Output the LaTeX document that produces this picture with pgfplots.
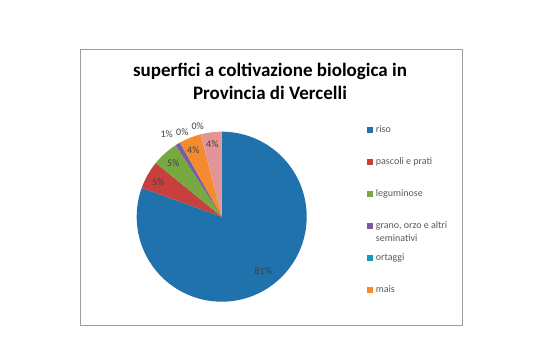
\documentclass[border=0pt]{standalone}
\usepackage{pgfplots}
\pgfplotsset{compat=1.18}
\usepackage{fontspec}
\setmainfont{Carlito}
\definecolor{criso}{HTML}{1F72AB}
\definecolor{cpasc}{HTML}{C8403E}
\definecolor{clegu}{HTML}{78A840}
\definecolor{cgran}{HTML}{7B5BA6}
\definecolor{corta}{HTML}{1A9BB5}
\definecolor{cmais}{HTML}{F68A2F}
\definecolor{cxx}{HTML}{9BB5D6}
\definecolor{cpink}{HTML}{E39496}
\definecolor{ctext}{HTML}{404040}
\definecolor{clegt}{HTML}{595959}
\begin{document}
\begin{tikzpicture}[x=1pt,y=1pt]
\useasboundingbox (0,0) rectangle (541,363);
% chart border
\draw[color=black!38, line width=1pt] (80.7,313.7) rectangle (462,37);
% title
\node[align=center, font=\fontsize{19}{22.7}\selectfont\bfseries, text=black] at (270,281.6)
  {superfici a coltivazione biologica in\\Provincia di Vercelli};
% pie (percent shares, clockwise from the top)
\begin{axis}[x=85pt, y=85pt, hide axis, anchor=origin, at={(221.7pt,146.3pt)},
  xmin=-1, xmax=1, ymin=-1, ymax=1, clip=false]
\addplot[fill=criso, draw=none, domain=0:80.5, samples=150, variable=\p]
  ({cos(90-3.6*\p)},{sin(90-3.6*\p)}) -- (axis cs:0,0) -- cycle;
\addplot[fill=cpasc, draw=none, domain=80.5:85.9, samples=20, variable=\p]
  ({cos(90-3.6*\p)},{sin(90-3.6*\p)}) -- (axis cs:0,0) -- cycle;
\addplot[fill=clegu, draw=none, domain=85.9:90.9, samples=20, variable=\p]
  ({cos(90-3.6*\p)},{sin(90-3.6*\p)}) -- (axis cs:0,0) -- cycle;
\addplot[fill=cgran, draw=none, domain=90.9:91.8, samples=5, variable=\p]
  ({cos(90-3.6*\p)},{sin(90-3.6*\p)}) -- (axis cs:0,0) -- cycle;
\addplot[fill=corta, draw=none, domain=91.8:91.85, samples=2, variable=\p]
  ({cos(90-3.6*\p)},{sin(90-3.6*\p)}) -- (axis cs:0,0) -- cycle;
\addplot[fill=cmais, draw=none, domain=91.85:96.05, samples=20, variable=\p]
  ({cos(90-3.6*\p)},{sin(90-3.6*\p)}) -- (axis cs:0,0) -- cycle;
\addplot[fill=cxx, draw=none, domain=96.05:96.1, samples=2, variable=\p]
  ({cos(90-3.6*\p)},{sin(90-3.6*\p)}) -- (axis cs:0,0) -- cycle;
\addplot[fill=cpink, draw=none, domain=96.1:100, samples=20, variable=\p]
  ({cos(90-3.6*\p)},{sin(90-3.6*\p)}) -- (axis cs:0,0) -- cycle;
\end{axis}
% data labels
\begin{scope}[every node/.style={font=\fontsize{10}{12}\selectfont, text=ctext, inner sep=0pt}]
\node at (263.3,92.3) {81\%};
\node at (158.3,181.3) {5\%};
\node at (173.3,199.7) {5\%};
\node at (166.7,228.7) {1\%};
\node at (182.3,231.3) {0\%};
\node at (193.3,213.0) {4\%};
\node at (197.7,237.0) {0\%};
\node at (212.3,218.7) {4\%};
\end{scope}
% legend
\begin{scope}[every node/.style={font=\fontsize{10}{12.7}\selectfont, text=clegt, inner sep=0pt, anchor=base west}]
\fill[criso] (367.3,230.3) rectangle +(6,6);
\node at (375.7,230.3) {riso};
\fill[cpasc] (367.3,198.0) rectangle +(6,6);
\node at (375.7,198.0) {pascoli e prati};
\fill[clegu] (367.3,166.0) rectangle +(6,6);
\node at (375.7,166.0) {leguminose};
\fill[cgran] (367.3,134.0) rectangle +(6,6);
\node at (375.7,134.0) {grano, orzo e altri};
\node at (375.7,121.3) {seminativi};
\fill[corta] (367.3,102.0) rectangle +(6,6);
\node at (375.7,102.0) {ortaggi};
\fill[cmais] (367.3,70.0) rectangle +(6,6);
\node at (375.7,70.0) {mais};
\end{scope}
\end{tikzpicture}
\end{document}
